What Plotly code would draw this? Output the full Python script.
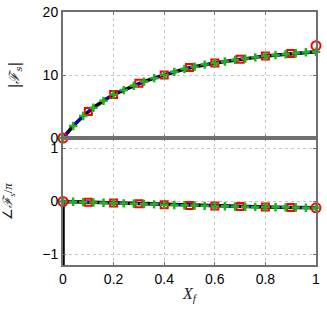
import plotly.graph_objects as go
from plotly.subplots import make_subplots

# dense grid (green pluses / curves)
x_fine = [0, 0.04, 0.08, 0.12, 0.16, 0.20, 0.24, 0.28, 0.32, 0.36, 0.40, 0.44, 0.48,
          0.52, 0.56, 0.60, 0.64, 0.68, 0.72, 0.76, 0.80, 0.84, 0.88, 0.92, 0.96, 1.0]
mag_fine = [0, 1.9, 3.5, 4.8, 5.9, 6.9, 7.6, 8.3, 8.95, 9.5, 10.0, 10.5, 10.95,
            11.3, 11.65, 11.9, 12.15, 12.4, 12.6, 12.8, 13.0, 13.15, 13.3, 13.45, 13.6, 13.7]
ph_fine = [0, -0.006, -0.012, -0.018, -0.024, -0.03, -0.036, -0.042, -0.048, -0.054, -0.06,
           -0.066, -0.072, -0.077, -0.082, -0.086, -0.09, -0.094, -0.098, -0.102, -0.105,
           -0.108, -0.111, -0.114, -0.117, -0.12]

# coarse grid (red squares)
x_sq = [0.1, 0.2, 0.3, 0.4, 0.5, 0.6, 0.7, 0.8, 0.9]
mag_sq = [4.2, 6.9, 8.7, 10.0, 11.2, 11.9, 12.5, 13.0, 13.4]
ph_sq = [-0.015, -0.03, -0.045, -0.06, -0.075, -0.086, -0.096, -0.105, -0.113]

# end points (red circles)
x_end = [0, 1]
mag_end = [0, 14.65]
ph_end = [0, -0.12]

# theory curve phase starts from below the axis at X_f = 0
ph_theory_x = [0] + x_fine
ph_theory_y = [-1.5] + ph_fine

x_ticks = [0, 0.2, 0.4, 0.6, 0.8, 1]
x_ticktext = ["0", "0.2", "0.4", "0.6", "0.8", "1"]

fig = make_subplots(rows=2, cols=1, shared_xaxes=True, vertical_spacing=0)

GREEN = "#22b022"

def add_row(row, xs_line_black, ys_black, ys_fine, ys_sq, ys_end):
    fig.add_trace(go.Scatter(x=xs_line_black, y=ys_black, mode="lines",
                             line=dict(color="black", width=3.5), showlegend=False), row=row, col=1)
    fig.add_trace(go.Scatter(x=x_fine, y=ys_fine, mode="lines",
                             line=dict(color="blue", width=2, dash="dash"), showlegend=False), row=row, col=1)
    fig.add_trace(go.Scatter(x=x_sq, y=ys_sq, mode="markers",
                             marker=dict(symbol="square-open", size=7, color="red", line=dict(width=2)),
                             showlegend=False), row=row, col=1)
    fig.add_trace(go.Scatter(x=x_end, y=ys_end, mode="markers",
                             marker=dict(symbol="circle-open", size=9, color="red", line=dict(width=2)),
                             showlegend=False, cliponaxis=False), row=row, col=1)
    fig.add_trace(go.Scatter(x=x_fine, y=ys_fine, mode="markers",
                             marker=dict(symbol="cross-thin-open", size=6, color=GREEN, line=dict(width=2.5, color=GREEN)),
                             showlegend=False, cliponaxis=False), row=row, col=1)

add_row(1, x_fine, mag_fine, mag_fine, mag_sq, mag_end)
add_row(2, ph_theory_x, ph_theory_y, ph_fine, ph_sq, ph_end)

axis_common = dict(showline=True, linecolor="#707070", linewidth=2, mirror="ticks",
                   ticks="inside", ticklen=3, tickcolor="#707070", automargin=False,
                   showgrid=True, gridcolor="#c8c8c8", griddash="dot", gridwidth=1,
                   zeroline=False, tickfont=dict(family="Liberation Sans", size=14, color="black"))

fig.update_xaxes(**axis_common, range=[0, 1], tickvals=x_ticks, ticktext=x_ticktext)
fig.update_xaxes(showticklabels=False, row=1, col=1)
fig.update_xaxes(title=dict(text="<i>X<sub>f</sub></i>", font=dict(family="Liberation Serif", size=16, color="#222"),
                            standoff=2), row=2, col=1)
fig.update_yaxes(**axis_common)
fig.update_yaxes(range=[0, 20], tickvals=[0, 10, 20], row=1, col=1,
                 title=dict(text="|<i>ℱ<sub>s</sub></i>|", font=dict(family="DejaVu Serif", size=14, color="#222"),
                            standoff=20))
fig.update_yaxes(range=[-1.2, 1.2], tickvals=[-1, 0, 1], ticktext=["−1", "0", "1"], row=2, col=1,
                 title=dict(text="∠<i>ℱ<sub>s</sub></i>/<i>π</i>", font=dict(family="Liberation Serif", size=13, color="#222"),
                            standoff=28))

fig.update_layout(width=327, height=310, margin=dict(l=63, r=11, t=12, b=45),
                  paper_bgcolor="white", plot_bgcolor="white")
fig.update_layout(yaxis=dict(domain=[0.502, 1]), yaxis2=dict(domain=[0, 0.502]))

fig.write_html("out.html", config={"displayModeBar": False},
               post_script="document.body.style.margin='0';document.body.style.overflow='hidden';")
